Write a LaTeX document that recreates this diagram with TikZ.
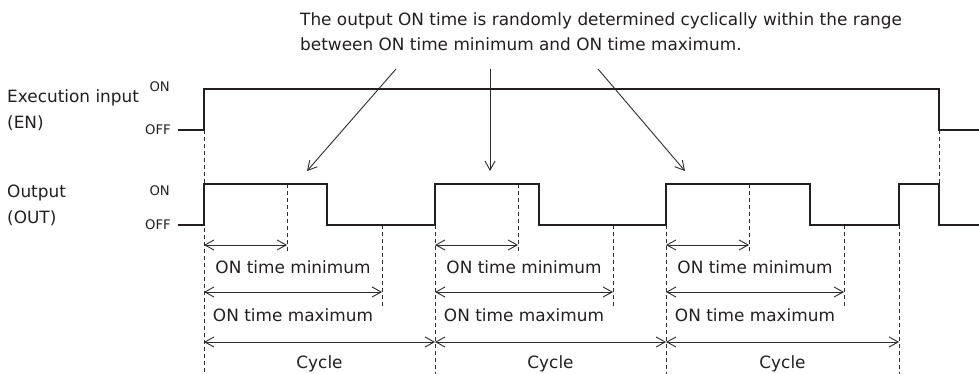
\documentclass[tikz,border=0pt]{standalone}
\usepackage{fontspec}
\setmainfont{DejaVu Sans}
\usepackage{xcolor}
\usetikzlibrary{arrows.meta}
\definecolor{sigdark}{RGB}{35,31,32}
\definecolor{inkgray}{RGB}{45,45,45}

\begin{document}
\begin{tikzpicture}[x=1pt, y=-1pt,
    >={Straight Barb[length=9pt, width=10pt]},
    signal/.style={sigdark, line width=2.4pt, line join=miter},
    guide/.style={inkgray, line width=0.9pt, dash pattern=on 4pt off 3pt},
    dimarrow/.style={inkgray, line width=0.9pt, <->},
    callout/.style={inkgray, line width=0.9pt, ->},
    sigtext/.style={text=sigdark, font=\fontsize{16.9}{25}\selectfont, inner sep=0pt},
    onoff/.style={text=sigdark, font=\fontsize{13.2}{16}\selectfont, inner sep=0pt, anchor=base east}
]

% Background / picture size
\useasboundingbox (0,0) rectangle (979,374);
\fill[white] (0,0) rectangle (979,374);

% Note at the top
\node[sigtext, anchor=base west] (note1) at (300,26) {The output ON time is randomly determined cyclically within the range};
\node[sigtext, anchor=base west] (note2) at (300,51) {between ON time minimum and ON time maximum.};

% Callout arrows
\coordinate (tail1) at (396,69);  \coordinate (head1) at (307,171);
\coordinate (tail2) at (490,69);  \coordinate (head2) at (490,171);
\coordinate (tail3) at (598,69);  \coordinate (head3) at (685,171);
\draw[callout] (tail1) -- (head1);
\draw[callout] (tail2) -- (head2);
\draw[callout] (tail3) -- (head3);

% Signal names and levels
\node[sigtext, anchor=base west] (ENname) at (7,103) {Execution input};
\node[sigtext, anchor=base west] (ENtag) at (7,129) {(EN)};
\node[onoff] (ENon) at (170,92) {ON};
\node[onoff] (ENoff) at (171,135) {OFF};

\node[sigtext, anchor=base west] (OUTname) at (7,197) {Output};
\node[sigtext, anchor=base west] (OUTtag) at (7,223) {(OUT)};
\node[onoff] (OUTon) at (170,196) {ON};
\node[onoff] (OUToff) at (171,229) {OFF};

% Dashed guide lines
\draw[guide] (204,130) -- (204,374);
\draw[guide] (939,130) -- (939,184);
\draw[guide] (435,225) -- (435,374);
\draw[guide] (666,225) -- (666,374);
\draw[guide] (899,225) -- (899,374);
\draw[guide] (287,184) -- (287,252);
\draw[guide] (382,225) -- (382,307);
\draw[guide] (518,184) -- (518,252);
\draw[guide] (613,225) -- (613,307);
\draw[guide] (749,184) -- (749,252);
\draw[guide] (844,225) -- (844,307);

% Execution input (EN)
\draw[signal] (178,130) -- (204,130) -- (204,89) -- (939,89) -- (939,130) -- (979,130);

% Output (OUT)
\draw[signal] (178,225) -- (204,225) -- (204,184) -- (327,184) -- (327,225)
    -- (435,225) -- (435,184) -- (539,184) -- (539,225)
    -- (666,225) -- (666,184) -- (810,184) -- (810,225)
    -- (899,225) -- (899,184) -- (939,184) -- (939,225) -- (979,225);

% ON time minimum
\coordinate (min1a) at (204,245);  \coordinate (min1b) at (287,245);
\coordinate (min2a) at (435,245);  \coordinate (min2b) at (518,245);
\coordinate (min3a) at (666,245);  \coordinate (min3b) at (749,245);
\draw[dimarrow] (min1a) -- (min1b);
\draw[dimarrow] (min2a) -- (min2b);
\draw[dimarrow] (min3a) -- (min3b);
\node[sigtext, anchor=base] (minlbl1) at (293,273) {ON time minimum};
\node[sigtext, anchor=base] (minlbl2) at (524,273) {ON time minimum};
\node[sigtext, anchor=base] (minlbl3) at (755,273) {ON time minimum};

% ON time maximum
\coordinate (max1a) at (204,292);  \coordinate (max1b) at (382,292);
\coordinate (max2a) at (435,292);  \coordinate (max2b) at (613,292);
\coordinate (max3a) at (666,292);  \coordinate (max3b) at (844,292);
\draw[dimarrow] (max1a) -- (max1b);
\draw[dimarrow] (max2a) -- (max2b);
\draw[dimarrow] (max3a) -- (max3b);
\node[sigtext, anchor=base] (maxlbl1) at (293,321) {ON time maximum};
\node[sigtext, anchor=base] (maxlbl2) at (524,321) {ON time maximum};
\node[sigtext, anchor=base] (maxlbl3) at (755,321) {ON time maximum};

% Cycle
\coordinate (cyc0) at (204,342);
\coordinate (cyc1) at (435,342);
\coordinate (cyc2) at (666,342);
\coordinate (cyc3) at (899,342);
\draw[dimarrow] (cyc0) -- (cyc1);
\draw[dimarrow] (cyc1) -- (cyc2);
\draw[dimarrow] (cyc2) -- (cyc3);
\node[sigtext, anchor=base] (cyclbl1) at (319.5,368) {Cycle};
\node[sigtext, anchor=base] (cyclbl2) at (550.5,368) {Cycle};
\node[sigtext, anchor=base] (cyclbl3) at (782.5,368) {Cycle};

\end{tikzpicture}
\end{document}
